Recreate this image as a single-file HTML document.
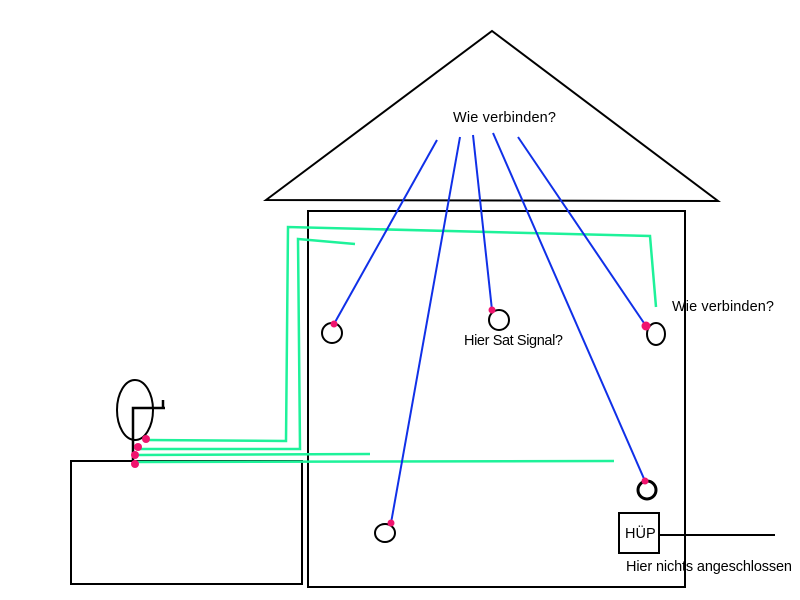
<!DOCTYPE html>
<html><head><style>body{margin:0;background:#fff}svg{display:block}text{font-family:"Liberation Sans",sans-serif;font-size:14.5px;fill:#000}</style></head><body>
<svg width="800" height="600" viewBox="0 0 800 600">
<polygon points="266,200 492,31 718,201" fill="none" stroke="#000" stroke-width="2"/>
<rect x="308" y="211" width="377" height="376" fill="none" stroke="#000" stroke-width="2"/>
<rect x="71" y="461" width="231" height="123" fill="none" stroke="#000" stroke-width="2"/>
<g stroke="#1ef29a" stroke-width="2.5" fill="none">
<polyline points="146,440 286,441 288,227 650,236 656,307"/>
<polyline points="140,449 300,449 298,239 355,244"/>
<polyline points="136,455 370,454"/>
<polyline points="136,462 614,461"/>
</g>
<g stroke="#1030e8" stroke-width="2">
<line x1="437" y1="140" x2="334" y2="324"/>
<line x1="460" y1="137" x2="391" y2="523"/>
<line x1="473" y1="135" x2="492" y2="310"/>
<line x1="493" y1="133" x2="645" y2="481"/>
<line x1="518" y1="137" x2="646" y2="326"/>
</g>
<g fill="none" stroke="#000" stroke-width="2">
<ellipse cx="332" cy="333" rx="10" ry="10"/>
<ellipse cx="499" cy="320" rx="10" ry="10"/>
<ellipse cx="656" cy="334" rx="9" ry="11"/>
<ellipse cx="647" cy="490" rx="9" ry="9" stroke-width="3"/>
<ellipse cx="385" cy="533" rx="10" ry="9"/>
<ellipse cx="135" cy="410" rx="18" ry="30"/>
<polyline points="133,462 133,408 165,408" stroke-width="2.5"/>
<line x1="163" y1="400" x2="163" y2="408" stroke-width="2.5"/>
<rect x="619" y="513" width="40" height="40"/>
<line x1="659" y1="535" x2="775" y2="535"/>
</g>
<g fill="#f0146e">
<circle cx="334" cy="324" r="3.5"/><circle cx="492" cy="310" r="3.5"/><circle cx="646" cy="326" r="4.5"/><circle cx="645" cy="481" r="3.5"/><circle cx="391" cy="523" r="3.5"/>
<circle cx="146" cy="439" r="4"/><circle cx="138" cy="447" r="4"/><circle cx="135" cy="455" r="4"/><circle cx="135" cy="464" r="4"/>
</g>
<text x="453" y="122" textLength="103">Wie verbinden?</text>
<text x="672" y="311" textLength="102">Wie verbinden?</text>
<text x="464" y="345" textLength="99">Hier Sat Signal?</text>
<text x="625" y="538">HÜP</text>
<text x="626" y="571" textLength="166">Hier nichts angeschlossen</text>
</svg>
</body></html>
